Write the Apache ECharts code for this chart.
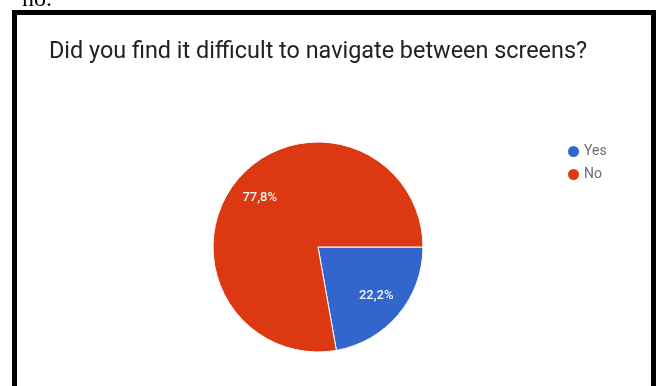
<!DOCTYPE html>
<html>
<head>
<meta charset="utf-8">
<script src="https://cdn.jsdelivr.net/npm/echarts@6/dist/echarts.min.js"></script>
<style>
html,body{margin:0;padding:0;background:#fff;}
#chart{width:659px;height:386px;}
</style>
</head>
<body>
<div id="chart"></div>
<script>
var titleText = 'Did you find it difficult to navigate between screens?';
var categories = ['Yes', 'No'];
var values = [22.2, 77.8];
var colors = ['#3366CC', '#DC3912'];

var chart = echarts.init(document.getElementById('chart'), null, {renderer: 'canvas'});

var pieData = categories.map(function (c, i) {
  return {name: c, value: values[i], itemStyle: {color: colors[i]}};
});
var labelData = categories.map(function (c, i) {
  return {name: c, value: values[i]};
});
function fmt(p) {
  return p.percent.toFixed(1).replace('.', ',') + '%';
}

chart.setOption({
  backgroundColor: '#ffffff',
  animation: false,
  title: {
    text: titleText,
    left: 49,
    top: 41,
    padding: 0,
    textStyle: {fontFamily: 'Roboto', fontSize: 23.4, fontWeight: 'normal', color: '#212121'}
  },
  legend: {
    orient: 'vertical',
    left: 566,
    top: 144,
    padding: 0,
    itemGap: 8,
    icon: 'circle',
    itemWidth: 13,
    itemHeight: 13,
    data: categories.map(function (c, i) { return {name: c, itemStyle: {color: colors[i]}}; }),
    textStyle: {fontFamily: 'Roboto', fontSize: 14, color: '#6d6d6d', padding: [0, 0, 0, -1]}
  },
  graphic: [
    {
      type: 'rect',
      shape: {x: 14.5, y: 12.5, width: 639, height: 420},
      style: {fill: 'none', stroke: '#000', lineWidth: 5},
      z: 100
    },
    {
      type: 'text',
      left: 22,
      top: -12,
      style: {text: 'no.', font: '24px "Liberation Serif"', fill: '#000'}
    }
  ],
  series: [
    {
      type: 'pie',
      center: [318, 247],
      radius: [0, 105],
      startAngle: 0,
      clockwise: true,
      silent: true,
      data: pieData,
      itemStyle: {borderColor: '#ffffff', borderWidth: 1},
      label: {show: false},
      labelLine: {show: false}
    },
    {
      type: 'pie',
      center: [318, 247],
      radius: [0, 146],
      startAngle: 0,
      clockwise: true,
      silent: true,
      data: labelData,
      itemStyle: {color: 'rgba(0,0,0,0)'},
      label: {
        show: true,
        position: 'inside',
        formatter: fmt,
        color: '#f4f4f4',
        fontFamily: 'Roboto',
        fontWeight: 500,
        fontSize: 13
      },
      labelLine: {show: false},
      legendHoverLink: false
    }
  ]
});
</script>
</body>
</html>
